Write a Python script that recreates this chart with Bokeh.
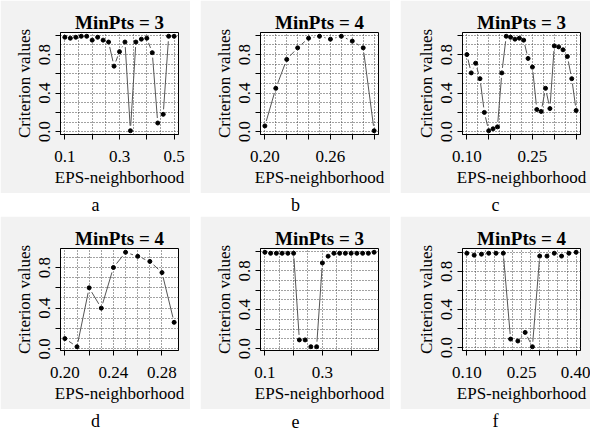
import numpy as np
from bokeh.plotting import figure
from bokeh.layouts import row, column
from bokeh.models import FixedTicker, Range1d
from bokeh.core.properties import value
from bokeh.embed import file_html
from bokeh.resources import INLINE

# ---------------- data ----------------
a_title = "MinPts = 3"
a_x = [0.10, 0.12, 0.14, 0.16, 0.18, 0.20, 0.22, 0.24, 0.26, 0.28, 0.30,
       0.32, 0.34, 0.36, 0.38, 0.40, 0.42, 0.44, 0.46, 0.48, 0.50]
a_y = [0.98, 0.97, 0.98, 0.99, 0.99, 0.95, 0.98, 0.95, 0.93, 0.68, 0.83,
       0.93, 0.01, 0.93, 0.96, 0.97, 0.82, 0.09, 0.18, 0.99, 0.99]
a_ticks = [0.1, 0.2, 0.3, 0.4, 0.5]
a_labels = ["0.1", "", "0.3", "", "0.5"]

b_title = "MinPts = 4"
b_x = [0.20, 0.21, 0.22, 0.23, 0.24, 0.25, 0.26, 0.27, 0.28, 0.29, 0.30]
b_y = [0.06, 0.45, 0.75, 0.87, 0.97, 0.99, 0.96, 0.99, 0.94, 0.87, 0.01]
b_ticks = [0.20, 0.22, 0.24, 0.26, 0.28, 0.30]
b_labels = ["0.20", "", "", "0.26", "", ""]

c_title = "MinPts = 3"
c_x = [0.10, 0.11, 0.12, 0.13, 0.14, 0.15, 0.16, 0.17, 0.18, 0.19, 0.20, 0.21, 0.22,
       0.23, 0.24, 0.25, 0.26, 0.27, 0.28, 0.29, 0.30, 0.31, 0.32, 0.33, 0.34, 0.35]
c_y = [0.80, 0.61, 0.71, 0.55, 0.20, 0.01, 0.03, 0.05, 0.61, 0.99, 0.98, 0.96, 0.97,
       0.95, 0.76, 0.67, 0.23, 0.21, 0.45, 0.24, 0.89, 0.88, 0.85, 0.78, 0.55, 0.22]
c_ticks = [0.10, 0.15, 0.20, 0.25, 0.30, 0.35]
c_labels = ["0.10", "", "", "0.25", "", ""]

d_title = "MinPts = 4"
d_x = [0.20, 0.21, 0.22, 0.23, 0.24, 0.25, 0.26, 0.27, 0.28, 0.29]
d_y = [0.10, 0.02, 0.60, 0.40, 0.80, 0.95, 0.91, 0.86, 0.75, 0.26]
d_ticks = [0.20, 0.22, 0.24, 0.26, 0.28]
d_labels = ["0.20", "", "0.24", "", "0.28"]

e_title = "MinPts = 3"
e_x = [0.10, 0.12, 0.14, 0.16, 0.18, 0.20, 0.22, 0.24, 0.26, 0.28,
       0.30, 0.32, 0.34, 0.36, 0.38, 0.40, 0.42, 0.44, 0.46, 0.48]
e_y = [0.99, 0.98, 0.98, 0.98, 0.98, 0.98, 0.09, 0.09, 0.02, 0.02,
       0.88, 0.95, 0.98, 0.98, 0.98, 0.98, 0.98, 0.98, 0.98, 0.99]
e_ticks = [0.1, 0.2, 0.3, 0.4]
e_labels = ["0.1", "", "0.3", ""]

f_title = "MinPts = 4"
f_x = [0.10, 0.12, 0.14, 0.16, 0.18, 0.20, 0.22, 0.24,
       0.26, 0.28, 0.30, 0.32, 0.34, 0.36, 0.38, 0.40]
f_y = [0.99, 0.97, 0.98, 0.99, 0.99, 0.99, 0.09, 0.07,
       0.16, 0.01, 0.96, 0.96, 0.99, 0.96, 0.99, 1.00]
f_ticks = [0.10, 0.15, 0.20, 0.25, 0.30, 0.35, 0.40]
f_labels = ["0.10", "", "", "0.25", "", "", "0.40"]

y_ticks = [0.0, 0.2, 0.4, 0.6, 0.8, 1.0]
y_labels = ["0.0", "", "0.4", "", "0.8", ""]

x_title = "EPS-neighborhood"
y_title = "Criterion values"
letters = ["a", "b", "c", "d", "e", "f"]

# ---------------- style ----------------
FONT = "Liberation Serif"
PANEL_BG = "#f2f2f2"
W, H = 190, 193
MT, MB = 32, 59
STRIP_H = 23
GAP_PX = 5.0


def ext(vals):
    lo, hi = min(vals), max(vals)
    s = (hi - lo) * 0.04
    return lo - s, hi + s


def half_steps(ticks):
    out = []
    for i, t in enumerate(ticks):
        out.append(t)
        if i < len(ticks) - 1:
            out.append((t + ticks[i + 1]) / 2)
    return out


def panel(xs, ys, title, ticks, labels, ml=60, mr=12):
    x0, x1 = ext(xs)
    y0, y1 = ext(ys)
    fw, fh = W - ml - mr, H - MT - MB
    p = figure(width=W, height=H, output_backend="svg", toolbar_location=None,
               x_range=Range1d(x0, x1), y_range=Range1d(y0, y1),
               min_border_left=ml, min_border_right=mr,
               min_border_top=MT, min_border_bottom=MB,
               border_fill_color=PANEL_BG, background_fill_color="white",
               outline_line_color="black", outline_line_width=1)
    p.title.text = title
    p.title.text_font = FONT
    p.title.text_font_size = "19px"
    p.title.text_font_style = "bold"
    p.title.text_color = "black"
    p.title.align = "center"
    p.title.standoff = 0

    # grids (dotted, at half tick steps)
    p.xgrid.ticker = FixedTicker(ticks=half_steps(ticks))
    p.ygrid.ticker = FixedTicker(ticks=half_steps(y_ticks))
    for g in (p.xgrid, p.ygrid):
        g.grid_line_color = "#444444"
        g.grid_line_dash = "1 2"
        g.grid_line_width = 1

    # axes
    p.xaxis.ticker = FixedTicker(ticks=ticks)
    p.xaxis.major_label_overrides = {t: l for t, l in zip(ticks, labels)}
    p.yaxis.ticker = FixedTicker(ticks=y_ticks)
    p.yaxis.major_label_overrides = {t: l for t, l in zip(y_ticks, y_labels)}
    p.yaxis.major_label_orientation = "vertical"
    p.xaxis.axis_label = x_title
    p.yaxis.axis_label = y_title
    for ax in (p.xaxis[0], p.yaxis[0]):
        ax.axis_label_text_font = FONT
        ax.axis_label_text_font_size = "17px"
        ax.axis_label_text_font_style = "normal"
        ax.axis_label_text_color = "black"
        ax.major_label_text_font = FONT
        ax.major_label_text_font_size = "17px"
        ax.major_label_text_color = "black"
        ax.major_tick_in = 0
        ax.major_tick_out = 5
        ax.minor_tick_line_color = None
        ax.axis_line_color = "black"
        ax.major_tick_line_color = "black"
        ax.axis_label_standoff = 3
    p.xaxis.major_label_standoff = 11
    p.yaxis.major_label_standoff = 5

    # R type="b" lines: segments with gaps around points
    sx = fw / (x1 - x0)
    sy = fh / (y1 - y0)
    sx0, sy0, sx1, sy1 = [], [], [], []
    for i in range(len(xs) - 1):
        dx = (xs[i + 1] - xs[i]) * sx
        dy = (ys[i + 1] - ys[i]) * sy
        L = float(np.hypot(dx, dy))
        if L <= 0:
            continue
        f = GAP_PX / L
        if f < 0.5:
            sx0.append(xs[i] + f * (xs[i + 1] - xs[i]))
            sy0.append(ys[i] + f * (ys[i + 1] - ys[i]))
            sx1.append(xs[i + 1] - f * (xs[i + 1] - xs[i]))
            sy1.append(ys[i + 1] - f * (ys[i + 1] - ys[i]))
    p.segment(x0=sx0, y0=sy0, x1=sx1, y1=sy1, line_color="#555555", line_width=1)
    p.scatter(xs, ys, size=4, color="black")
    return p


def letter_fig(ch):
    q = figure(width=W, height=STRIP_H, output_backend="svg", toolbar_location=None,
               x_range=Range1d(0, 1), y_range=Range1d(0, 1),
               x_axis_location=None, y_axis_location=None,
               min_border=0, outline_line_color=None,
               border_fill_color="white", background_fill_color="white")
    q.grid.visible = False
    q.text(x=[0.5], y=[0.5], text=[ch], text_align="center", text_baseline="middle",
           text_font=value(FONT), text_font_size="18px", text_color="black")
    return q


pa = panel(a_x, a_y, a_title, a_ticks, a_labels)
pb = panel(b_x, b_y, b_title, b_ticks, b_labels)
pc = panel(c_x, c_y, c_title, c_ticks, c_labels, ml=62, mr=10)
pd = panel(d_x, d_y, d_title, d_ticks, d_labels)
pe = panel(e_x, e_y, e_title, e_ticks, e_labels)
pf = panel(f_x, f_y, f_title, f_ticks, f_labels, ml=62, mr=10)

lay = column(
    row(pa, pb, pc, spacing=10),
    row(*[letter_fig(c) for c in letters[:3]], spacing=10),
    row(pd, pe, pf, spacing=10),
    row(*[letter_fig(c) for c in letters[3:]], spacing=10),
    spacing=0,
)

open("out.html", "w").write(file_html(lay, INLINE))
